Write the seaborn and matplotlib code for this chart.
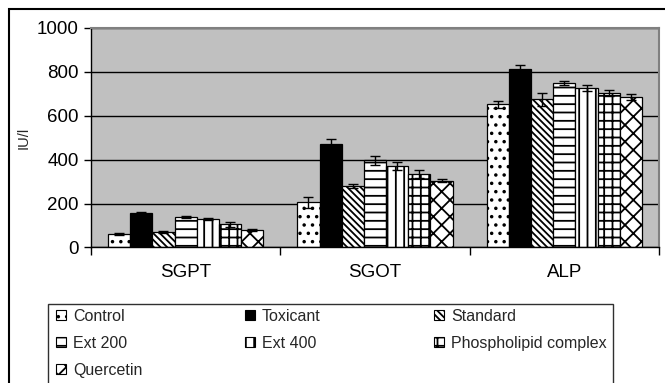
import numpy as np
import pandas as pd
import matplotlib
matplotlib.use("Agg")
import matplotlib.pyplot as plt
from matplotlib.patches import Patch, Rectangle
import seaborn as sns

# --- datos ---
parameters = ["SGPT", "SGOT", "ALP"]
groups = ["Control", "Toxicant", "Standard", "Ext 200", "Ext 400",
          "Phospholipid complex", "Quercetin"]

control = [60, 207, 652]
toxicant = [157, 470, 815]
standard = [70, 280, 675]
ext200 = [138, 398, 750]
ext400 = [130, 372, 727]
phospholipid = [105, 333, 704]
quercetin = [80, 305, 685]

control_err = [5, 25, 15]
toxicant_err = [5, 25, 15]
standard_err = [5, 10, 30]
ext200_err = [5, 20, 10]
ext400_err = [5, 18, 15]
phospholipid_err = [12, 18, 12]
quercetin_err = [5, 5, 15]

values = [control, toxicant, standard, ext200, ext400, phospholipid, quercetin]
errors = [control_err, toxicant_err, standard_err, ext200_err, ext400_err,
          phospholipid_err, quercetin_err]

# estilo de relleno de cada grupo
hatches = ["..", "", "\\\\\\\\\\", "--", "||", "++", "xx"]
faces = ["white", "black", "white", "white", "white", "white", "white"]

rows = []
for g, vals, errs in zip(groups, values, errors):
    for p, v, e in zip(parameters, vals, errs):
        rows.append({"Parameter": p, "Group": g, "Value": v, "Err": e})
df = pd.DataFrame(rows)

sns.set_style("white")
plt.rcParams["font.family"] = ["Liberation Sans", "DejaVu Sans"]
plt.rcParams["hatch.linewidth"] = 1.3
plt.rcParams["hatch.color"] = "black"

fig = plt.figure(figsize=(6.65, 3.83), dpi=100)
ax = fig.add_axes([91 / 665, 1 - 247.5 / 383, 568 / 665, 219.5 / 383])

sns.barplot(data=df, x="Parameter", y="Value", hue="Group", order=parameters,
            hue_order=groups, width=0.82, errorbar=None, ax=ax,
            edgecolor="black", linewidth=0.9, legend=False)

# rellenos y barras de error por grupo
for cont, h, fc, errs in zip(ax.containers, hatches, faces, errors):
    xs, ys = [], []
    for bar in cont:
        bar.set_facecolor(fc)
        bar.set_hatch(h)
        bar.set_edgecolor("black")
        xs.append(bar.get_x() + bar.get_width() / 2)
        ys.append(bar.get_height())
    ax.errorbar(xs, ys, yerr=errs, fmt="none", ecolor="black",
                elinewidth=1.0, capsize=3.5, capthick=1.0, zorder=5)

ax.set_facecolor("#C0C0C0")
ax.set_ylim(0, 1000)
ax.set_xlim(-0.5, 2.5)
ax.set_yticks(np.arange(0, 1001, 200))
ax.yaxis.grid(True, color="black", linewidth=1.0)
ax.set_axisbelow(True)

ax.set_xticks([-0.5, 0.5, 1.5, 2.5], minor=True)
ax.tick_params(axis="x", which="minor", length=6, width=1, color="black",
               direction="out", bottom=True)
ax.tick_params(axis="x", which="major", length=0, labelsize=13.5, pad=12,
               colors="black")
ax.tick_params(axis="y", length=5, width=1, direction="out", left=True,
               labelsize=13.5, colors="black", pad=4)

ax.set_xlabel("")
ax.set_ylabel("IU/l", fontsize=10.5, labelpad=4)

for s in ["left", "bottom"]:
    ax.spines[s].set_color("black")
    ax.spines[s].set_linewidth(1.0)
for s in ["top", "right"]:
    ax.spines[s].set_color("#808080")
    ax.spines[s].set_linewidth(1.5)

# marco exterior
fig.patches.append(Rectangle((9 / 665, -0.1), 1.1, 1 - 9 / 383 + 0.1,
                             transform=fig.transFigure, fill=False,
                             edgecolor="black", linewidth=1.5))

# caja de la leyenda
fig.patches.append(Rectangle((48 / 665, -0.1), 565 / 665, 1 - 304 / 383 + 0.1,
                             transform=fig.transFigure, fill=False,
                             edgecolor="#303030", linewidth=1.0))

handles = [Patch(facecolor=fc, edgecolor="black", hatch=h, linewidth=0.8)
           for h, fc in zip(hatches, faces)]
columns = [[0, 3, 6], [1, 4], [2, 5]]
col_x = [56, 245, 434]
for idx, cx in zip(columns, col_x):
    leg = fig.legend([handles[i] for i in idx], [groups[i] for i in idx],
                     loc="upper left", bbox_to_anchor=(cx / 665, 1 - 309 / 383),
                     frameon=False, fontsize=11.5, borderpad=0, borderaxespad=0,
                     handlelength=0.6, handleheight=0.6, handletextpad=0.45,
                     labelspacing=0.75)

fig.savefig("out.png", dpi=100)
